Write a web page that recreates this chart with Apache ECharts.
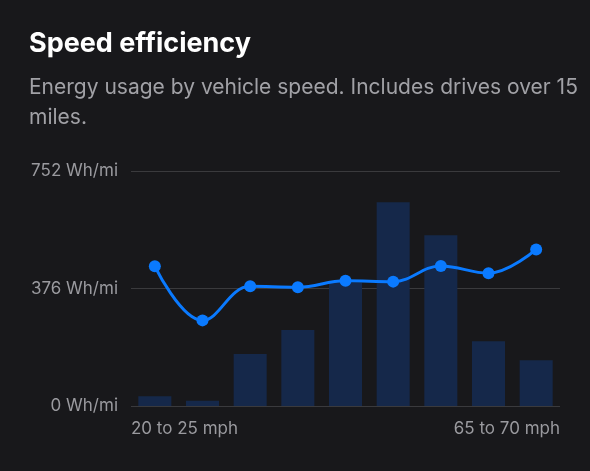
<!DOCTYPE html>
<html>
<head>
<meta charset="utf-8">
<script src="https://cdn.jsdelivr.net/npm/echarts@6/dist/echarts.min.js"></script>
<style>
  html, body { margin: 0; padding: 0; background: #18181b; }
  #chart { width: 590px; height: 471px; }
</style>
</head>
<body>
<div id="chart"></div>
<script>
// speed bins (mph)
var speedBins = ['20-25', '25-30', '30-35', '35-40', '40-45', '45-50', '50-55', '55-60', '60-70']
var rangeLabels = ['20 to 25 mph', '65 to 70 mph']
// Wh/mi per bin
var efficiency = [447, 274, 383, 380, 401, 398, 448, 425, 501]
// share of distance driven per bin (%)
var distanceShare = [1.3, 0.7, 6.9, 10.1, 16.4, 27.1, 22.7, 8.6, 6.1]
var yTicks = [0, 376, 752]

var font = 'Inter, "Noto Sans", sans-serif'
var myChart = echarts.init(document.getElementById('chart'))
var option = {
  backgroundColor: '#18181b',
  animation: false,
  title: {
    text: 'Speed efficiency',
    // wrapped like the card text
    subtext: 'Energy usage by vehicle speed. Includes drives over 15\nmiles.',
    left: 24,
    top: 25,
    itemGap: 16,
    textStyle: { color: '#ffffff', fontSize: 27, fontWeight: 'bold', fontFamily: font },
    subtextStyle: { color: '#a1a1a6', fontSize: 21, fontFamily: font, lineHeight: 30 }
  },
  grid: { left: 131, right: 30, top: 171, bottom: 65, containLabel: false },
  xAxis: [
    {
      type: 'category',
      data: speedBins,
      axisLine: { show: false },
      axisTick: { show: false },
      axisLabel: { show: false }
    },
    {
      type: 'category',
      data: rangeLabels,
      position: 'bottom',
      boundaryGap: false,
      axisLine: { show: false },
      axisTick: { show: false },
      axisLabel: {
        color: '#9a9a9f', fontSize: 17, fontFamily: font, margin: 14,
        alignMinLabel: 'left', alignMaxLabel: 'right'
      }
    }
  ],
  yAxis: [
    {
      type: 'value',
      min: yTicks[0],
      max: yTicks[2],
      interval: yTicks[1],
      axisLine: { show: false },
      axisTick: { show: false },
      axisLabel: { formatter: '{value} Wh/mi', color: '#9a9a9f', fontSize: 17, fontFamily: font, margin: 13 },
      splitLine: { lineStyle: { color: '#3a3a3d', width: 1 } }
    },
    {
      type: 'value',
      min: 0,
      max: 31.25,
      show: false,
      splitLine: { show: false }
    }
  ],
  series: [
    {
      name: 'Distance',
      type: 'bar',
      xAxisIndex: 0,
      yAxisIndex: 1,
      data: distanceShare,
      barWidth: 33,
      itemStyle: { color: '#15284a' }
    },
    {
      name: 'Efficiency',
      type: 'line',
      xAxisIndex: 0,
      yAxisIndex: 0,
      data: efficiency,
      smooth: 0.4,
      symbol: 'circle',
      symbolSize: 12,
      lineStyle: { color: '#0a7aff', width: 3 },
      itemStyle: { color: '#0a7aff' }
    }
  ]
}
myChart.setOption(option)
</script>
</body>
</html>
